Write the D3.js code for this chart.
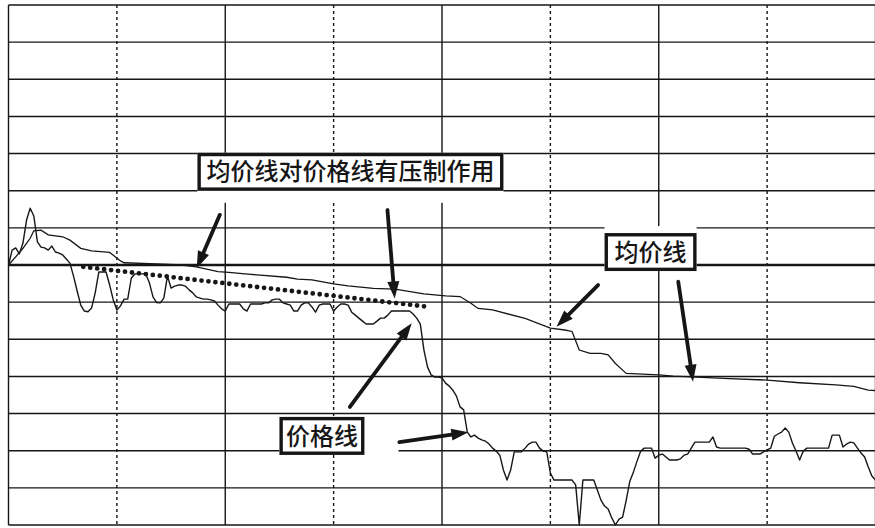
<!DOCTYPE html>
<html>
<head>
<meta charset="utf-8">
<script src="https://cdn.jsdelivr.net/npm/d3@7"></script>
<style>
  body { margin: 0; background: #fff; }
  svg { display: block; }
</style>
</head>
<body>
<svg width="875" height="528"></svg>
<script>
// per-minute price, % change vs previous close (one grid row = 1%)
var price = [
  0, 0.40, 0.46, 0.30, 0.59, 1.21, 1.53, 1.32, 0.62, 0.48,
  0.46, 0.40, 0.51, 0.35, 0.32, 0.27, 0.16, 0.05, -0.30, -0.70,
  -1.08, -1.24, -1.26, -1.16, -0.75, -0.19, -0.19, -0.19, -0.54, -0.94,
  -1.21, -1.10, -0.92, -0.92, -0.35, -0.24, -0.24, -0.24, -0.24, -0.48,
  -0.86, -1.01, -1.02, -0.89, -0.30, -0.62, -0.57, -0.54, -0.54, -0.57,
  -0.67, -0.75, -0.86, -0.89, -0.92, -0.92, -0.94, -0.97, -1.08, -1.18,
  -1.24, -1.05, -1.05, -1.05, -1.05, -1.18, -1.24, -1.05, -1.05, -1.05,
  -1.05, -1.02, -1.02, -0.94, -0.92, -0.92, -1.02, -1.05, -1.08, -1.24,
  -1.24, -1.08, -1.02, -1.02, -1.13, -1.27, -1.08, -1.05, -1.05, -1.05,
  -1.24, -1.13, -1.05, -1.05, -1.08, -1.27, -1.35, -1.43, -1.51, -1.59,
  -1.59, -1.59, -1.51, -1.43, -1.43, -1.35, -1.24, -1.24, -1.24, -1.24,
  -1.24, -1.24, -1.32, -1.43, -1.59, -2.29, -2.75, -2.96, -3.02, -3.02,
  -3.04, -3.18, -3.26, -3.37, -3.53, -3.82, -3.90, -4.50, -4.63, -4.58,
  -4.66, -4.71, -4.74, -4.82, -4.93, -5.01, -5.12, -5.52, -5.79, -5.52,
  -5.03, -5.03, -5.03, -4.93, -4.82, -4.77, -4.77, -4.93, -5.01, -5.03,
  -5.60, -5.79, -5.79, -5.79, -5.79, -5.79, -5.79, -5.92, -7.00, -5.79,
  -5.79, -5.79, -5.79, -6.06, -6.33, -6.49, -6.57, -6.81, -7.00, -6.84,
  -6.79, -6.33, -5.82, -5.57, -5.28, -5.01, -4.93, -4.93, -4.93, -5.20,
  -5.12, -5.09, -5.17, -5.25, -5.25, -5.25, -5.22, -5.12, -5.09, -4.93,
  -4.77, -4.77, -4.77, -4.77, -4.77, -4.63, -4.90, -4.93, -4.93, -4.93,
  -4.93, -4.93, -4.93, -4.93, -4.93, -4.96, -5.09, -5.09, -5.09, -5.03,
  -4.98, -4.93, -4.61, -4.55, -4.50, -4.39, -4.50, -4.79, -5.01, -5.25,
  -5.01, -4.93, -4.93, -4.93, -4.93, -4.93, -4.93, -4.93, -4.58, -4.58,
  -4.58, -4.90, -4.82, -4.77, -4.79, -4.93, -5.06, -5.17, -5.44, -5.68,
  -5.79
];

// average price line, read at its turning points
var avgMinutes = [0, 2, 4, 6, 7, 9, 11, 15, 17, 20,
  23, 28, 31, 32, 41, 48, 52, 58, 61, 67,
  77, 80, 84, 90, 94, 101, 107, 115, 121, 125,
  128, 130, 134, 143, 150, 154, 156, 158, 161, 164,
  166, 168, 170, 171, 174, 180, 184, 189, 198, 210,
  219, 229, 234, 238, 240];
var avgValues = [0, 0.22, 0.45, 0.72, 0.92, 0.94, 0.81, 0.76, 0.67, 0.45,
  0.38, 0.34, 0.11, 0.06, 0.03, 0, -0.05, -0.18, -0.20, -0.25,
  -0.33, -0.38, -0.40, -0.51, -0.56, -0.63, -0.65, -0.78, -0.83, -0.85,
  -1.03, -1.17, -1.21, -1.44, -1.70, -1.75, -1.79, -2.29, -2.38, -2.38,
  -2.42, -2.65, -2.83, -2.92, -2.93, -2.96, -2.99, -3.01, -3.05, -3.10,
  -3.17, -3.23, -3.27, -3.37, -3.38];

var rowTicks = d3.range(-7, 8);          // horizontal grid rows
var colTicks = d3.range(0, 241, 30);     // half-hour columns

// pressure trend (dotted) and the annotation arrows, [minute, value]
var trendLine = [[20.7, -0.05], [115.7, -1.12]];
var arrows = [
  [[58.5, 1.35], [52.1, -0.09]],
  [[104.9, 1.48], [106.9, -0.90]],
  [[94.5, -3.82], [111.6, -1.57]],
  [[108.2, -4.77], [127.3, -4.50]],
  [[163.2, -0.54], [151.7, -1.66]],
  [[185.4, -0.45], [189.5, -3.14]]
];
var labels = [
  {text: "均价线对价格线有压制作用", minute: 52.3, value: 3.02, w: 306, padB: 12},
  {text: "均价线", minute: 165, value: 0.86, w: 92, padT: 7},
  {text: "价格线", minute: 75, value: -4.09, w: 85, padR: 34}
];

var svg = d3.select("svg"),
    width = +svg.attr("width"),
    height = +svg.attr("height");

var x = d3.scaleLinear().domain([0, 240]).range([8.5, 875.5]),
    y = d3.scaleLinear().domain([-7, 7]).range([525, 5]);

var ink = "#161616";

// grid
var grid = svg.append("g").attr("class", "grid");
grid.selectAll(".row")
    .data(rowTicks)
    .enter().append("line")
    .attr("x1", x(0)).attr("x2", width)
    .attr("y1", function (d) { return y(d); })
    .attr("y2", function (d) { return y(d); })
    .attr("stroke", ink)
    .attr("stroke-width", function (d) { return d === 0 ? 2.6 : 1.4; });

grid.selectAll(".col")
    .data(colTicks)
    .enter().append("line")
    .attr("x1", function (d) { return x(d); })
    .attr("x2", function (d) { return x(d); })
    .attr("y1", y(7)).attr("y2", y(-7))
    .attr("stroke", ink)
    .attr("stroke-width", 1.4)
    .attr("stroke-dasharray", function (d) { return (d / 30) % 2 === 1 ? "3,3" : null; });

// lines
var line = d3.line()
    .x(function (d) { return x(d[0]); })
    .y(function (d) { return y(d[1]); });

svg.append("path")
    .datum(avgMinutes.map(function (m, i) { return [m, avgValues[i]]; }))
    .attr("fill", "none")
    .attr("stroke", ink)
    .attr("stroke-width", 1.3)
    .attr("d", line);

svg.append("path")
    .datum(price.map(function (v, i) { return [i, v]; }))
    .attr("fill", "none")
    .attr("stroke", ink)
    .attr("stroke-width", 1.4)
    .attr("stroke-linejoin", "round")
    .attr("d", line);

// dotted trend
svg.append("path")
    .datum(trendLine)
    .attr("fill", "none")
    .attr("stroke", ink)
    .attr("stroke-width", 4.8)
    .attr("stroke-linecap", "round")
    .attr("stroke-dasharray", "0,7")
    .attr("d", line);

// label boxes
var lab = svg.selectAll(".label")
    .data(labels)
    .enter().append("g")
    .attr("class", "label")
    .attr("transform", function (d) { return "translate(" + x(d.minute) + "," + y(d.value) + ")"; });

lab.append("rect")
    .attr("x", 0)
    .attr("y", function (d) { return -(d.padT || 0); })
    .attr("width", function (d) { return d.w + (d.padR || 0); })
    .attr("height", function (d) { return 38 + (d.padT || 0) + (d.padB || 0); })
    .attr("fill", "#fff");

lab.append("rect")
    .attr("x", 1.7).attr("y", 1.7)
    .attr("width", function (d) { return d.w - 3.4; })
    .attr("height", 34.6)
    .attr("fill", "#fff")
    .attr("stroke", ink)
    .attr("stroke-width", 3.4);

lab.append("text")
    .attr("x", function (d) { return d.w / 2; })
    .attr("y", 19)
    .attr("dy", "0.36em")
    .attr("text-anchor", "middle")
    .style("font", "500 24px 'Noto Sans CJK SC', sans-serif")
    .attr("fill", ink)
    .text(function (d) { return d.text; });

// arrows
var arrowG = svg.append("g").attr("class", "arrows");
arrows.forEach(function (a) {
    var x0 = x(a[0][0]), y0 = y(a[0][1]),
        x1 = x(a[1][0]), y1 = y(a[1][1]),
        ang = Math.atan2(y1 - y0, x1 - x0),
        hl = 17, hw = 6,
        bx = x1 - hl * Math.cos(ang), by = y1 - hl * Math.sin(ang),
        px = -Math.sin(ang) * hw, py = Math.cos(ang) * hw;
    arrowG.append("line")
        .attr("x1", x0).attr("y1", y0)
        .attr("x2", bx + 2 * Math.cos(ang)).attr("y2", by + 2 * Math.sin(ang))
        .attr("stroke", ink)
        .attr("stroke-width", 3.8)
        .attr("stroke-linecap", "round");
    arrowG.append("path")
        .attr("d", "M" + x1 + "," + y1 + "L" + (bx + px) + "," + (by + py) + "L" + (bx - px) + "," + (by - py) + "Z")
        .attr("fill", ink);
});
</script>
</body>
</html>
